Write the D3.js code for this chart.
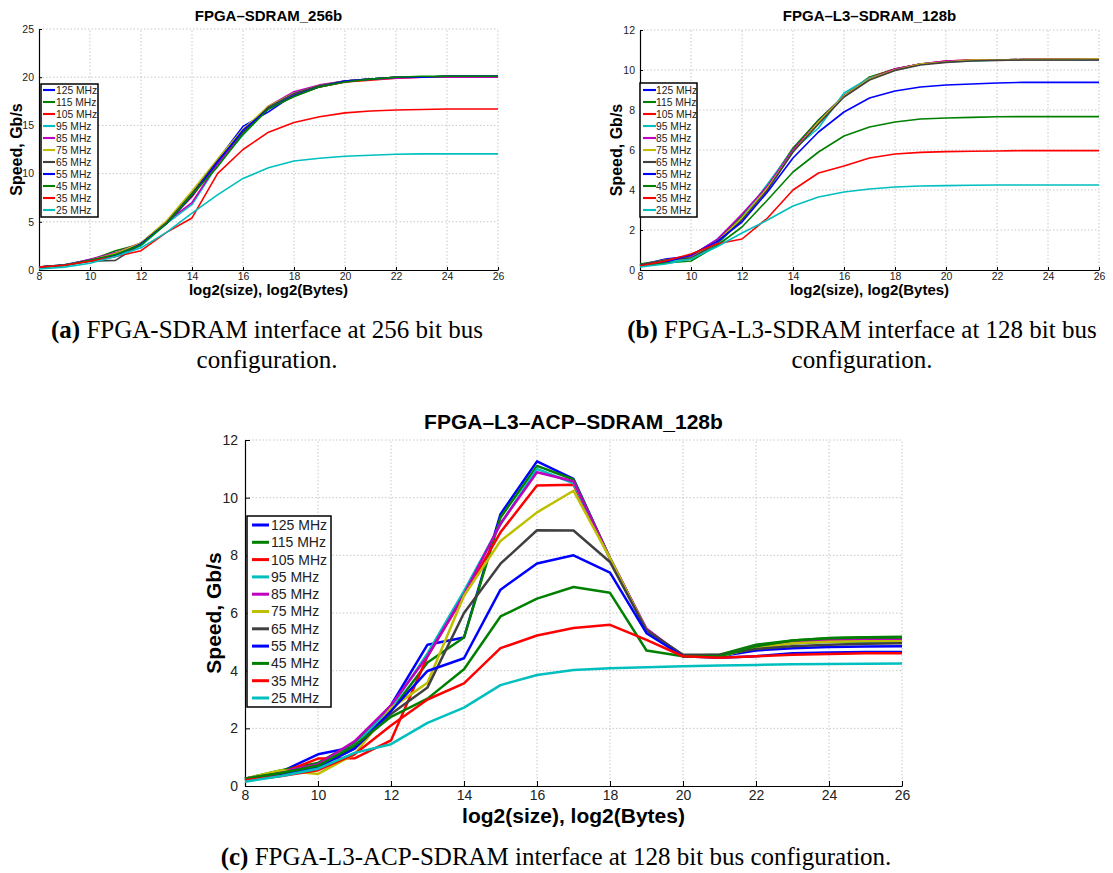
<!DOCTYPE html>
<html>
<head>
<meta charset="utf-8">
<script src="https://cdn.jsdelivr.net/npm/d3@7"></script>
<style>
  body { margin: 0; background: #fff; }
  svg { display: block; }
  .grid line { stroke: #c8c8c8; stroke-dasharray: 1.5 2; }
</style>
</head>
<body>
<svg width="1113" height="873"></svg>
<script>
// log2(size) in bytes
var sizes = [8, 9, 10, 11, 12, 13, 14, 15, 16, 17, 18, 19, 20, 21, 22, 23, 24, 25, 26];
var freqs = ["125 MHz", "115 MHz", "105 MHz", "95 MHz", "85 MHz", "75 MHz", "65 MHz", "55 MHz", "45 MHz", "35 MHz", "25 MHz"];
var colors = ["#0000ff", "#008000", "#ff0000", "#00bfbf", "#bf00bf", "#bfbf00", "#404040", "#0000ff", "#008000", "#ff0000", "#00bfbf"];

// (a) FPGA-SDRAM 256b
var sdram256 = [
  [0.3,0.55,1.05,1.6,2.8,5.0,7.8,11.4,14.9,16.4,18.2,19.1,19.6,19.8,20.0,20.0,20.1,20.1,20.1],
  [0.3,0.55,1.0,2.0,2.7,4.9,8.0,10.9,14.1,16.8,18.0,19.0,19.5,19.8,20.0,20.0,20.1,20.1,20.1],
  [0.3,0.5,1.0,1.5,2.6,4.9,7.6,11.2,14.3,16.8,18.2,19.0,19.5,19.7,19.9,20.0,20.0,20.0,20.0],
  [0.2,0.45,0.9,1.4,2.5,4.8,6.8,10.9,14.0,16.8,18.3,19.1,19.6,19.8,20.0,20.0,20.1,20.1,20.1],
  [0.3,0.5,1.1,1.8,2.8,5.0,7.0,11.0,14.2,17.0,18.5,19.2,19.6,19.8,19.9,20.0,20.0,20.0,20.0],
  [0.25,0.5,1.0,1.7,2.8,5.1,8.2,11.5,14.6,17.0,18.3,19.1,19.6,19.8,20.0,20.0,20.1,20.1,20.1],
  [0.3,0.5,0.9,1.0,2.7,4.9,7.9,11.3,14.3,16.9,18.3,19.1,19.6,19.8,20.0,20.0,20.1,20.1,20.1],
  [0.3,0.5,1.0,1.5,2.7,4.8,7.7,11.2,14.5,16.7,18.1,19.0,19.6,19.8,20.0,20.0,20.1,20.1,20.1],
  [0.3,0.5,1.0,1.6,2.6,4.8,7.8,10.7,14.1,16.7,18.0,19.0,19.5,19.8,20.0,20.1,20.1,20.1,20.1],
  [0.3,0.5,0.9,1.4,2.0,3.9,5.4,10.0,12.5,14.3,15.3,15.9,16.3,16.5,16.6,16.65,16.7,16.7,16.7],
  [0.1,0.3,0.7,1.4,2.3,3.9,5.9,7.8,9.5,10.6,11.3,11.6,11.8,11.9,12.0,12.05,12.05,12.05,12.05]
];

// (b) FPGA-L3-SDRAM 128b
var l3sdram128 = [
  [0.25,0.55,0.7,1.5,2.7,4.2,6.0,7.5,8.7,9.6,10.05,10.3,10.4,10.5,10.5,10.52,10.52,10.52,10.52],
  [0.3,0.5,0.65,1.4,2.7,4.2,6.1,7.5,8.7,9.65,10.05,10.3,10.4,10.5,10.5,10.52,10.53,10.53,10.53],
  [0.25,0.45,0.75,1.4,2.6,4.1,6.0,7.4,8.7,9.6,10.05,10.3,10.45,10.5,10.5,10.52,10.52,10.52,10.52],
  [0.2,0.4,0.55,1.2,2.6,4.3,6.0,7.1,8.85,9.6,10.0,10.3,10.4,10.45,10.5,10.5,10.5,10.5,10.5],
  [0.25,0.5,0.7,1.5,2.8,4.2,6.0,7.4,8.7,9.55,10.05,10.3,10.45,10.5,10.5,10.52,10.53,10.53,10.53],
  [0.2,0.5,0.6,1.4,2.6,4.1,5.9,7.4,8.7,9.55,10.0,10.3,10.4,10.5,10.5,10.52,10.53,10.53,10.55],
  [0.25,0.5,0.6,1.3,2.5,4.0,5.9,7.3,8.65,9.5,9.98,10.25,10.38,10.45,10.48,10.5,10.5,10.5,10.5],
  [0.2,0.4,0.75,1.4,2.4,3.9,5.6,6.9,7.9,8.6,8.95,9.15,9.25,9.3,9.35,9.38,9.38,9.38,9.38],
  [0.2,0.35,0.45,1.2,2.15,3.5,4.9,5.9,6.7,7.15,7.4,7.55,7.6,7.63,7.66,7.67,7.67,7.67,7.67],
  [0.2,0.45,0.8,1.3,1.55,2.6,4.0,4.85,5.2,5.6,5.8,5.88,5.92,5.94,5.95,5.97,5.97,5.97,5.97],
  [0.15,0.3,0.55,1.15,1.85,2.5,3.2,3.65,3.9,4.05,4.15,4.2,4.22,4.24,4.25,4.25,4.25,4.25,4.25]
];

// (c) FPGA-L3-ACP-SDRAM 128b
var acpsdram128 = [
  [0.25,0.5,1.1,1.35,2.8,4.9,5.15,9.43,11.26,10.65,7.9,5.4,4.52,4.5,4.7,4.78,4.82,4.84,4.85],
  [0.25,0.55,0.8,1.5,2.6,4.28,5.15,9.31,11.1,10.63,7.9,5.4,4.52,4.55,4.9,5.05,5.13,5.16,5.18],
  [0.2,0.45,0.95,0.96,1.58,4.5,6.6,8.8,10.42,10.45,7.9,5.4,4.5,4.5,4.8,4.95,5.02,5.05,5.06],
  [0.2,0.45,0.7,1.4,2.7,4.6,6.76,9.08,11.0,10.5,7.9,5.4,4.5,4.5,4.8,4.95,5.0,5.0,5.0],
  [0.25,0.5,0.75,1.55,2.8,4.5,6.64,9.1,10.88,10.57,7.9,5.45,4.5,4.5,4.85,5.0,5.07,5.09,5.1],
  [0.25,0.55,0.42,1.1,2.7,3.58,6.6,8.5,9.49,10.24,7.9,5.4,4.5,4.5,4.8,4.95,5.0,5.02,5.02],
  [0.25,0.45,0.7,1.3,2.5,3.42,6.0,7.71,8.87,8.86,7.77,5.4,4.55,4.55,4.75,4.85,4.9,4.93,4.95],
  [0.2,0.4,0.65,1.3,2.6,3.99,4.43,6.81,7.72,8.0,7.4,5.3,4.5,4.45,4.5,4.6,4.63,4.65,4.65],
  [0.25,0.45,0.7,1.4,2.4,3.03,4.05,5.88,6.5,6.9,6.7,4.7,4.5,4.5,4.85,5.05,5.12,5.15,5.15],
  [0.2,0.35,0.55,1.1,2.1,3.0,3.56,4.78,5.22,5.48,5.59,5.07,4.5,4.45,4.5,4.55,4.58,4.6,4.6],
  [0.15,0.35,0.6,1.15,1.45,2.19,2.72,3.5,3.85,4.02,4.08,4.12,4.15,4.18,4.2,4.22,4.23,4.24,4.25]
];

var xTicks = [8, 10, 12, 14, 16, 18, 20, 22, 24, 26];

var svg = d3.select("svg");
var font = "'Liberation Sans', Arial, Helvetica, sans-serif";

function drawPanel(p) {
    var x = d3.scaleLinear().domain([8, 26]).range([p.x0, p.x1]);
    var y = d3.scaleLinear().domain([0, p.ymax]).range([p.y0, p.y1]);
    var g = svg.append("g");

    // grid
    var grid = g.append("g").attr("class", "grid");
    grid.selectAll(".gx").data(xTicks.slice(1)).enter().append("line")
        .attr("x1", d => x(d)).attr("x2", d => x(d))
        .attr("y1", p.y0).attr("y2", p.y1);
    grid.selectAll(".gy").data(p.yTicks.slice(1)).enter().append("line")
        .attr("x1", p.x0).attr("x2", p.x1)
        .attr("y1", d => y(d)).attr("y2", d => y(d));

    // axes, ticks point inward
    var xAxis = g.append("g").attr("transform", "translate(0," + p.y0 + ")")
        .call(d3.axisBottom(x).tickValues(xTicks).tickSizeInner(-p.tick).tickSizeOuter(0).tickPadding(p.xpad));
    var yAxis = g.append("g").attr("transform", "translate(" + p.x0 + ",0)")
        .call(d3.axisLeft(y).tickValues(p.yTicks).tickSizeInner(-p.tick).tickSizeOuter(0).tickPadding(p.tick + 2));
    [xAxis, yAxis].forEach(function (a) {
        a.selectAll("path").attr("stroke", "#000").attr("stroke-width", 1.2);
        a.selectAll("line").attr("stroke", "#000");
        a.selectAll("text").style("font-family", font).style("font-size", p.tickFont + "px").attr("fill", "#222");
    });

    // lines
    var line = d3.line().x((d, i) => x(sizes[i])).y(d => y(d));
    g.append("g").selectAll("path").data(p.data).enter().append("path")
        .attr("d", line)
        .attr("fill", "none")
        .attr("stroke", (d, i) => colors[i])
        .attr("stroke-width", p.lw)
        .attr("stroke-linejoin", "round");

    // title and labels
    g.append("text").attr("x", (p.x0 + p.x1) / 2).attr("y", p.titleY)
        .attr("text-anchor", "middle").style("font-family", font).style("font-weight", "bold")
        .style("font-size", p.titleFont + "px").text(p.title);
    g.append("text").attr("x", (p.x0 + p.x1) / 2).attr("y", p.xlabY)
        .attr("text-anchor", "middle").style("font-family", font).style("font-weight", "bold")
        .style("font-size", p.xlabFont + "px").text("log2(size), log2(Bytes)");
    g.append("text").attr("transform", "translate(" + p.ylabX + "," + (p.y0 + p.y1) / 2 + ") rotate(-90)")
        .attr("text-anchor", "middle").style("font-family", font).style("font-weight", "bold")
        .style("font-size", p.ylabFont + "px").text("Speed, Gb/s");

    // legend
    var L = p.leg;
    var lg = g.append("g").attr("transform", "translate(" + L.x + "," + L.y + ")");
    lg.append("rect").attr("width", L.w).attr("height", L.h)
        .attr("fill", "#fff").attr("stroke", "#000").attr("stroke-width", 1.5);
    var item = lg.selectAll(".it").data(freqs).enter().append("g")
        .attr("transform", (d, i) => "translate(0," + (L.first + i * L.step) + ")");
    item.append("line").attr("x1", L.lx0).attr("x2", L.lx1)
        .attr("stroke", (d, i) => colors[i]).attr("stroke-width", p.lw + 0.5);
    item.append("text").attr("x", L.tx).attr("dy", "0.35em")
        .style("font-family", font).style("font-size", L.font + "px").attr("fill", "#222").text(d => d);
}

drawPanel({
    data: sdram256, x0: 39, x1: 498, y0: 270, y1: 29, ymax: 25, yTicks: [0, 5, 10, 15, 20, 25],
    tick: 3, xpad: 3, tickFont: 10.5, lw: 1.6, title: "FPGA\u2013SDRAM_256b", titleY: 21, titleFont: 15,
    xlabY: 295, ylabX: 22, xlabFont: 15, ylabFont: 16,
    leg: {x: 41, y: 84, w: 57, h: 133, first: 6, step: 12, lx0: 2, lx1: 14, tx: 15, font: 10.3}
});

drawPanel({
    data: l3sdram128, x0: 640, x1: 1099, y0: 270, y1: 30, ymax: 12, yTicks: [0, 2, 4, 6, 8, 10, 12],
    tick: 3, xpad: 3, tickFont: 10.5, lw: 1.6, title: "FPGA\u2013L3\u2013SDRAM_128b", titleY: 21, titleFont: 15,
    xlabY: 295, ylabX: 622, xlabFont: 15, ylabFont: 16,
    leg: {x: 640, y: 83, w: 57, h: 134, first: 7, step: 12, lx0: 3, lx1: 16, tx: 16, font: 10.3}
});

drawPanel({
    data: acpsdram128, x0: 245, x1: 902, y0: 786, y1: 440, ymax: 12, yTicks: [0, 2, 4, 6, 8, 10, 12],
    tick: 5, xpad: 4, tickFont: 14, lw: 2.5, title: "FPGA\u2013L3\u2013ACP\u2013SDRAM_128b", titleY: 429, titleFont: 21,
    xlabY: 823, ylabX: 221, xlabFont: 21, ylabFont: 21,
    leg: {x: 247, y: 516, w: 84, h: 191, first: 9, step: 17.3, lx0: 5, lx1: 22, tx: 24, font: 14}
});

// captions under each panel
var serif = "'Liberation Serif', 'Times New Roman', serif";
var captions = [
    {x: 267, y: 338, tag: "(a)", lines: [" FPGA-SDRAM interface at 256 bit bus", "configuration."]},
    {x: 862, y: 338, tag: "(b)", lines: [" FPGA-L3-SDRAM interface at 128 bit bus", "configuration."]},
    {x: 556, y: 865, tag: "(c)", lines: [" FPGA-L3-ACP-SDRAM interface at 128 bit bus configuration."]}
];
captions.forEach(function (c) {
    c.lines.forEach(function (ln, i) {
        var t = svg.append("text").attr("x", c.x).attr("y", c.y + i * 30)
            .attr("text-anchor", "middle")
            .style("font-family", serif).style("font-size", "25px");
        if (i == 0) t.append("tspan").style("font-weight", "bold").text(c.tag);
        t.append("tspan").text(ln);
    });
});
</script>
</body>
</html>
